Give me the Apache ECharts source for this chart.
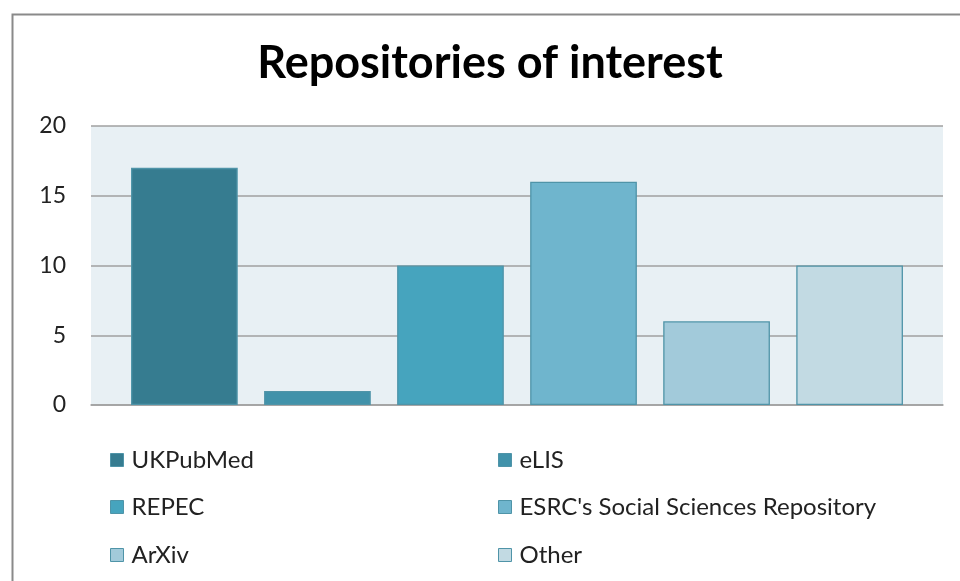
<!DOCTYPE html>
<html>
<head>
<meta charset="utf-8">
<script src="https://cdn.jsdelivr.net/npm/echarts@6/dist/echarts.min.js"></script>
<style>html,body{margin:0;padding:0;background:#fff}#c{width:960px;height:581px}</style>
</head>
<body>
<div id="c"></div>
<script>
const titleText = 'Repositories of interest';
const seriesNames = ['UKPubMed', 'eLIS', 'REPEC', "ESRC's Social Sciences Repository", 'ArXiv', 'Other'];
const seriesValues = [17, 1, 10, 16, 6, 10];
const seriesColors = ['#367C90', '#4192AA', '#46A4BE', '#6FB5CD', '#A2CADA', '#C2DAE3'];
const yTicks = [0, 5, 10, 15, 20];

const FONT = 'Lato';
const legendPos = [
  [110, 448], [498, 448],
  [110, 495], [498, 495],
  [110, 543], [498, 543]
];

const chart = echarts.init(document.getElementById('c'), null, {renderer: 'canvas'});
const option = {
  animation: false,
  backgroundColor: '#ffffff',
  textStyle: {fontFamily: FONT},
  title: {
    text: titleText,
    left: 485, textAlign: 'center', top: 36,
    textStyle: {fontFamily: FONT, fontWeight: 'bold', fontSize: 45, color: '#000'}
  },
  graphic: [{
    type: 'rect', shape: {x: 12.5, y: 14.5, width: 960, height: 600},
    style: {fill: 'none', stroke: '#8a8a8a', lineWidth: 2}, silent: true, z: -1
  }],
  grid: {left: 91, right: 17, top: 126, bottom: 176, show: true, backgroundColor: '#E8F0F4', borderWidth: 0},
  xAxis: {
    type: 'category', data: [''],
    axisLine: {show: true, lineStyle: {color: '#A0A0A0', width: 1.5}},
    axisTick: {show: false}, axisLabel: {show: false}
  },
  yAxis: {
    type: 'value', min: yTicks[0], max: yTicks[yTicks.length - 1], interval: yTicks[1] - yTicks[0],
    axisLine: {show: false}, axisTick: {show: false},
    axisLabel: {fontFamily: FONT, fontSize: 23, color: '#222', margin: 25},
    splitLine: {lineStyle: {color: '#A0A0A0', width: 1.5}}
  },
  legend: seriesNames.map((n, i) => ({
    data: [n], left: legendPos[i][0], top: legendPos[i][1], orient: 'horizontal',
    itemWidth: 13, itemHeight: 13, icon: 'rect', padding: 0,
    itemStyle: {borderColor: '#4F94A8', borderWidth: 1},
    textStyle: {fontFamily: FONT, fontSize: 24, color: '#222', padding: [0, 0, 0, 3]}
  })),
  series: seriesNames.map((n, i) => ({
    type: 'bar', name: n, data: [seriesValues[i]],
    barCategoryGap: '9.4%', barGap: '24.7%',
    itemStyle: {color: seriesColors[i], borderColor: '#4F94A8', borderWidth: 1.3}
  }))
};
chart.setOption(option);
</script>
</body>
</html>
